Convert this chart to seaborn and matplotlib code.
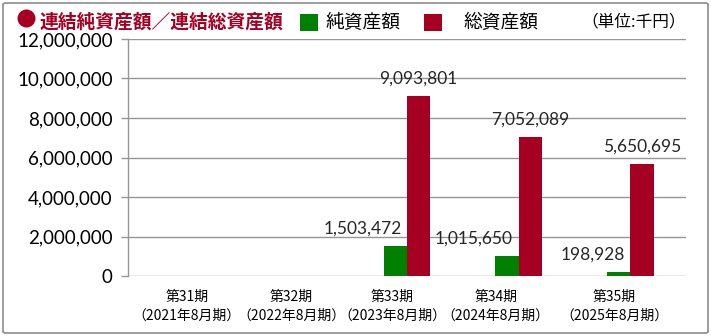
import numpy as np
import pandas as pd
import matplotlib
matplotlib.use("Agg")
import matplotlib.pyplot as plt
import matplotlib.transforms as mtransforms
import seaborn as sns
from matplotlib.patches import FancyBboxPatch, Rectangle, Ellipse

periods = ["第31期", "第32期", "第33期", "第34期", "第35期"]
fiscal = ["（2021年8月期）", "（2022年8月期）", "（2023年8月期）", "（2024年8月期）", "（2025年8月期）"]
net_assets = [np.nan, np.nan, 1503472, 1015650, 198928]
total_assets = [np.nan, np.nan, 9093801, 7052089, 5650695]
series_names = ["純資産額", "総資産額"]
yticks = [0, 2000000, 4000000, 6000000, 8000000, 10000000, 12000000]

GREEN = "#008000"
RED = "#A50021"
JP = ["Noto Sans CJK JP", "DejaVu Sans"]
NUM = ["Lato", "DejaVu Sans"]

sns.set_theme(style="white")
plt.rcParams["font.family"] = JP

df = pd.DataFrame({
    "period": periods * 2,
    "series": [series_names[0]] * 5 + [series_names[1]] * 5,
    "value": net_assets + total_assets,
})

W, H = 711, 336
fig = plt.figure(figsize=(W / 100, H / 100), dpi=100)
border = FancyBboxPatch((3 / W, 3 / H), 705 / W, 330 / H, boxstyle="round,pad=0,rounding_size=0.004",
                        transform=fig.transFigure, fill=False, edgecolor="#8c8c8c", linewidth=1.2)
fig.patches.append(border)

ax = fig.add_axes([128 / W, 1 - 276 / H, (686 - 128) / W, (276 - 39) / H])
sns.barplot(data=df, x="period", y="value", hue="series", order=periods,
            hue_order=series_names, palette=[GREEN, RED], width=0.42,
            linewidth=0, ax=ax, legend=False, errorbar=None, saturation=1)

ax.set_ylim(0, 12000000)
ax.set_xlim(-0.5, 4.5)
ax.set_yticks(yticks)
ax.set_yticklabels([f"{v:,}" for v in yticks], fontfamily=NUM, fontsize=13.5, color="#000000")
ax.set_xticks(range(5))
ax.set_xticklabels([f"{p}\n{f}" for p, f in zip(periods, fiscal)], fontsize=10, color="#000000",
                   linespacing=1.45)
ax.set_xlabel("")
ax.set_ylabel("")
ax.yaxis.grid(True, color="#969696", linewidth=1)
ax.set_axisbelow(True)
for s in ["top", "right", "bottom"]:
    ax.spines[s].set_visible(False)
ax.spines["left"].set_color("#969696")
ax.spines["left"].set_linewidth(1)
ax.tick_params(axis="y", which="major", direction="out", length=5, color="#969696", width=1, pad=6,
               left=True)
ax.tick_params(axis="x", length=0, pad=10)

# slight horizontal shifts of category labels as in the reference
shifts_px = [3, -4, -15, -23, -16]
for lbl, dx in zip(ax.get_xticklabels(), shifts_px):
    lbl.set_transform(lbl.get_transform() + mtransforms.ScaledTranslation(dx / 100, 0, fig.dpi_scale_trans))

bw = 0.21
for i in range(5):
    if not np.isnan(net_assets[i]):
        ax.annotate(f"{int(net_assets[i]):,}", (i, net_assets[i]), xytext=(-4, 12.5),
                    textcoords="offset points", ha="right", va="center", fontsize=12.5, fontfamily=NUM)
    if not np.isnan(total_assets[i]):
        ax.annotate(f"{int(total_assets[i]):,}", (i + bw / 2, total_assets[i]), xytext=(0, 12.5),
                    textcoords="offset points", ha="center", va="center", fontsize=12.5, fontfamily=NUM)

# title and legend
fig.patches.append(Ellipse((26.5 / W, 1 - 18.5 / H), 18 / W, 18 / H, transform=fig.transFigure,
                           facecolor=RED, edgecolor="none"))
fig.text(40 / W, 1 - 22 / H, "連結純資産額／連結総資産額", fontsize=13.5, fontweight="bold",
         color=RED, va="center", ha="left")
fig.patches.append(Rectangle((300 / W, 1 - 31 / H), 18 / W, 17 / H, transform=fig.transFigure,
                             facecolor=GREEN, edgecolor="none"))
fig.text(326 / W, 1 - 22 / H, series_names[0], fontsize=13.5, color="#000000", va="center", ha="left")
fig.patches.append(Rectangle((424 / W, 1 - 31 / H), 18 / W, 17 / H, transform=fig.transFigure,
                             facecolor=RED, edgecolor="none"))
fig.text(463 / W, 1 - 22 / H, series_names[1], fontsize=13.5, color="#000000", va="center", ha="left")
fig.text(686 / W, 1 - 22 / H, "（単位:千円）", fontsize=12, color="#000000", va="center", ha="right")

fig.savefig("out.png", dpi=100)
